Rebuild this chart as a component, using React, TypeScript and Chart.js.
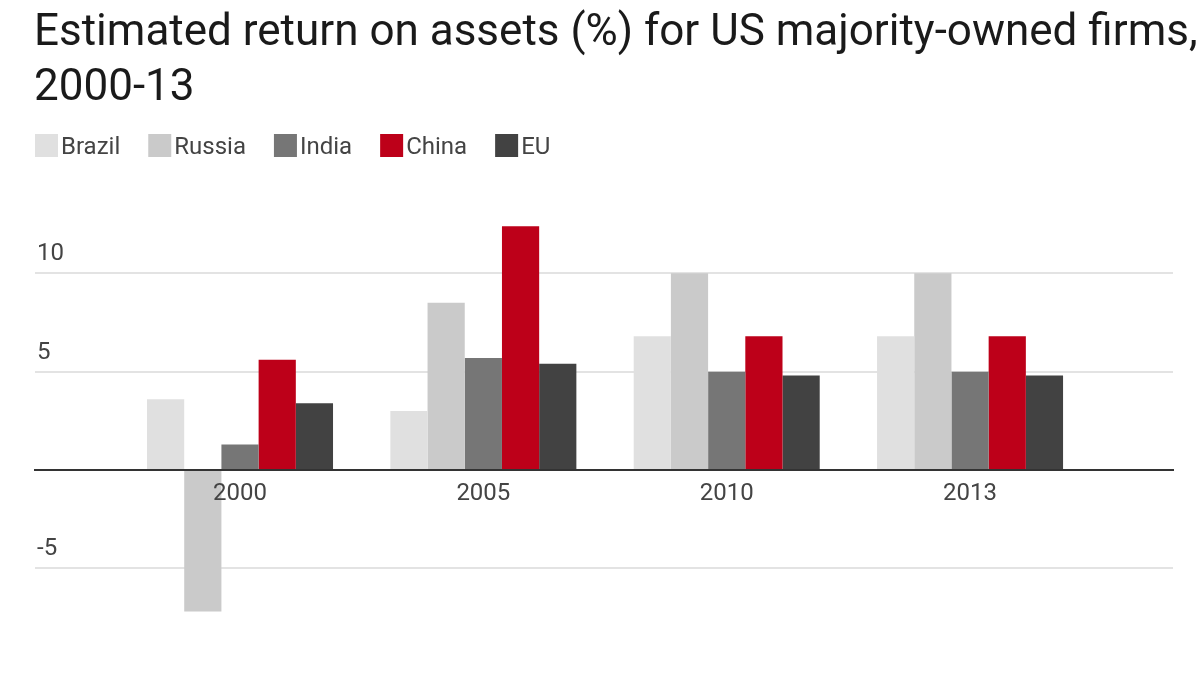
import { useEffect, useRef } from 'react';
import { Chart, registerables } from 'chart.js';

Chart.register(...registerables);

const titleLines = ['Estimated return on assets (%) for US majority-owned firms,', '2000-13'];
const years = ['2000', '2005', '2010', '2013'];
const seriesNames = ['Brazil', 'Russia', 'India', 'China', 'EU'];
const seriesColors = ['#e0e0e0', '#cacaca', '#767676', '#bd0019', '#424242'];
const brazil = [3.6, 3.0, 6.8, 6.8];
const russia = [-7.2, 8.5, 10.0, 10.0];
const india = [1.3, 5.7, 5.0, 5.0];
const china = [5.6, 12.4, 6.8, 6.8];
const eu = [3.4, 5.4, 4.8, 4.8];
const yTicks = [-5, 0, 5, 10];
const yTickLabels = ['-5', '', '5', '10'];

const FONT = 'Roboto';

const headerPlugin = {
  id: 'header',
  afterDraw(chart: any) {
    const { ctx, chartArea } = chart;
    ctx.save();
    ctx.textAlign = 'left';
    ctx.textBaseline = 'alphabetic';
    ctx.fillStyle = '#1a1a1a';
    ctx.font = `44px ${FONT}`;
    titleLines.forEach((t, i) => ctx.fillText(t, 34, 45 + i * 55));

    ctx.font = `24px ${FONT}`;
    let x = chartArea.left;
    const boxTop = chartArea.top - 41;
    chart.data.datasets.forEach((ds: any) => {
      ctx.fillStyle = ds.backgroundColor;
      ctx.fillRect(x, boxTop, 23, 23);
      ctx.fillStyle = '#444444';
      ctx.fillText(ds.label, x + 26, boxTop + 20);
      x += 26 + ctx.measureText(ds.label).width + 28;
    });
    ctx.restore();
  },
};

export default function App() {
  const ref = useRef<HTMLCanvasElement | null>(null);

  useEffect(() => {
    if (!ref.current) return;
    const values = [brazil, russia, india, china, eu];
    const chart = new Chart(ref.current, {
      type: 'bar',
      data: {
        labels: years.map((_, i) => i),
        datasets: seriesNames.map((name, k) => ({
          label: name,
          data: values[k],
          backgroundColor: seriesColors[k],
          borderWidth: 0,
          categoryPercentage: 0.7644,
          barPercentage: 1,
        })),
      },
      options: {
        responsive: true,
        maintainAspectRatio: false,
        animation: false,
        layout: { padding: { top: 175, left: 35, right: 27, bottom: 2 } },
        plugins: {
          legend: { display: false },
          title: { display: false },
          tooltip: { enabled: false },
        },
        scales: {
          x: {
            type: 'linear',
            offset: false,
            bounds: 'data',
            position: { y: 0 },
            min: -0.8425,
            max: 3.834,
            afterBuildTicks: (s: any) => {
              s.ticks = years.map((_, i) => ({ value: i }));
            },
            grid: { display: false, drawTicks: false, tickLength: 0, offset: false },
            border: { display: true, color: '#333333', width: 2, z: 1 },
            ticks: {
              z: 1,
              padding: 10,
              color: '#444444',
              maxRotation: 0,
              autoSkip: false,
              font: { family: FONT, size: 24 },
              callback: (v: any) => years[v] ?? '',
            },
          },
          y: {
            min: -9.59,
            max: 15,
            afterBuildTicks: (s: any) => {
              s.ticks = yTicks.map((v) => ({ value: v }));
            },
            afterFit: (s: any) => {
              s.width = 0;
            },
            grid: {
              drawTicks: false,
              lineWidth: 2,
              color: (c: any) => (c.tick && c.tick.value === 0 ? '#333333' : '#e3e3e3'),
            },
            border: { display: false },
            ticks: {
              mirror: true,
              padding: 2,
              labelOffset: -19,
              color: '#444444',
              font: { family: FONT, size: 24 },
              callback: (_v: any, i: number) => yTickLabels[i],
            },
          },
        },
      } as any,
      plugins: [headerPlugin],
    });
    return () => chart.destroy();
  }, []);

  return (
    <div style={{ position: 'absolute', left: 0, top: 0, width: 1200, height: 675, background: '#ffffff' }}>
      <canvas ref={ref} />
    </div>
  );
}
